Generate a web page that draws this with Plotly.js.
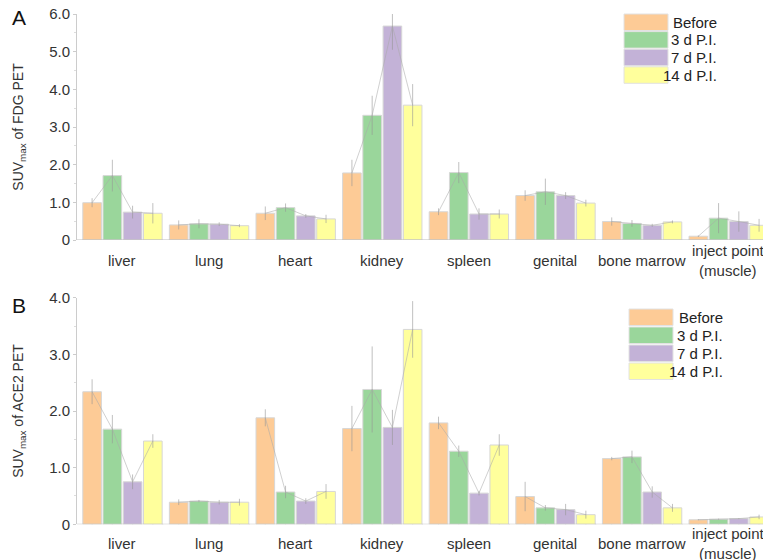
<!DOCTYPE html>
<html><head><meta charset="utf-8">
<script src="https://cdn.plot.ly/plotly-3.0.1.min.js"></script>
<style>html,body{margin:0;padding:0;background:#fff}#chart{width:763px;height:560px}</style>
</head><body><div id="chart"></div>
<script>
const categories = ['liver','lung','heart','kidney','spleen','genital','bone marrow','inject point<br>(muscle)'];
const seriesNames = ['Before','3 d P.I.','7 d P.I.','14 d P.I.'];
const seriesColors = ['#FDCB96','#9AD69B','#C3B2D7','#FFFF9C'];

// Panel A: SUVmax of FDG PET
const fdgBefore    = [0.99, 0.40, 0.71, 1.78, 0.75, 1.18, 0.49, 0.10];
const fdgBeforeErr = [0.12, 0.12, 0.18, 0.35, 0.09, 0.14, 0.11, 0.02];
const fdgD3        = [1.71, 0.43, 0.86, 3.31, 1.79, 1.28, 0.44, 0.58];
const fdgD3Err     = [0.42, 0.12, 0.11, 0.52, 0.28, 0.35, 0.09, 0.40];
const fdgD7        = [0.74, 0.42, 0.64, 5.68, 0.69, 1.18, 0.39, 0.49];
const fdgD7Err     = [0.17, 0.05, 0.05, 0.63, 0.15, 0.09, 0.04, 0.27];
const fdgD14       = [0.71, 0.38, 0.56, 3.58, 0.69, 0.98, 0.48, 0.39];
const fdgD14Err    = [0.27, 0.04, 0.11, 0.56, 0.12, 0.09, 0.04, 0.17];

// Panel B: SUVmax of ACE2 PET
const aceBefore    = [2.34, 0.39, 1.88, 1.69, 1.79, 0.49, 1.16, 0.08];
const aceBeforeErr = [0.22, 0.05, 0.15, 0.40, 0.11, 0.26, 0.03, 0.01];
const aceD3        = [1.68, 0.41, 0.57, 2.38, 1.29, 0.29, 1.19, 0.09];
const aceD3Err     = [0.25, 0.02, 0.11, 0.76, 0.10, 0.05, 0.11, 0.01];
const aceD7        = [0.75, 0.39, 0.41, 1.71, 0.55, 0.26, 0.57, 0.10];
const aceD7Err     = [0.13, 0.04, 0.05, 0.31, 0.04, 0.10, 0.10, 0.01];
const aceD14       = [1.47, 0.39, 0.58, 3.44, 1.40, 0.17, 0.29, 0.13];
const aceD14Err    = [0.12, 0.06, 0.13, 0.50, 0.19, 0.07, 0.07, 0.04];

const fdgTickVals = [0,1,2,3,4,5,6];
const fdgTickText = ['0','1.0','2.0','3.0','4.0','5.0','6.0'];
const aceTickVals = [0,1,2,3,4];
const aceTickText = ['0','1.0','2.0','3.0','4.0'];

const W = 763, H = 560, ML = 77;
const bargap = 0.065, slot = (1 - bargap) / 4;
const idx = categories.map((c, i) => i);
const FONT = 'Liberation Sans, Arial, sans-serif';
const px2x = p => (p - ML) / (W - ML);
const px2y = p => (H - p) / H;

const panels = [
  {xa:'x', ya:'y', vals:[fdgBefore,fdgD3,fdgD7,fdgD14], errs:[fdgBeforeErr,fdgD3Err,fdgD7Err,fdgD14Err]},
  {xa:'x2', ya:'y2', vals:[aceBefore,aceD3,aceD7,aceD14], errs:[aceBeforeErr,aceD3Err,aceD7Err,aceD14Err]}
];

const traces = [];
const shapes = [];
const annotations = [];
panels.forEach((p, pi) => {
  p.vals.forEach((v, j) => {
    traces.push({
      type:'bar', x: idx, y: v, name: seriesNames[j], xaxis: p.xa, yaxis: p.ya,
      showlegend: false, hoverinfo: 'skip',
      marker: {color: seriesColors[j], line: {color: 'rgba(215,215,215,1)', width: 1}},
      error_y: {type:'data', array: p.errs[j], visible: true, color: 'rgba(150,150,150,0.6)', thickness: 1, width: 0}
    });
  });
  // connecting lines across bar tops within each group
  const lx = [], ly = [];
  idx.forEach(k => {
    p.vals.forEach((v, j) => { lx.push(k + (j - 1.5) * slot); ly.push(v[k]); });
    lx.push(null); ly.push(null);
  });
  traces.push({type:'scatter', mode:'lines', x: lx, y: ly, xaxis: p.xa, yaxis: p.ya,
    showlegend:false, hoverinfo:'skip', connectgaps:false,
    line:{color:'rgba(170,170,170,0.55)', width:1}});
  // group baselines & ticks
  idx.forEach(k => {
    shapes.push({type:'line', xref:p.xa, yref:p.ya, x0:k - 0.535, x1:k + 0.5 - bargap/2, y0:0, y1:0,
      line:{color:'#bdbdbd', width:1}});
    const tx = [k - 0.535].concat(seriesNames.map((s, j) => k + (j - 1.5) * slot));
    tx.forEach(t => shapes.push({type:'line', xref:p.xa, yref:p.ya, ysizemode:'pixel', yanchor:0,
      x0:t, x1:t, y0:0, y1:-3, line:{color:'#bdbdbd', width:1}}));
    annotations.push({xref:p.xa, yref:p.ya + ' domain', x:k, y:0, yshift: pi === 0 ? -20 : -19,
      text: categories[k], showarrow:false, yanchor:'middle', xanchor:'center',
      font:{family:FONT, size:15, color:'#333'}});
  });
});

// manual legends (swatches + right-aligned labels)
const legends = [
  {top:14, sx0:624, sx1:668, tx:719, pitch:17.6, h:16.5},
  {top:309, sx0:629, sx1:673, tx:725, pitch:18, h:16.5}
];
legends.forEach(L => {
  seriesNames.forEach((s, j) => {
    const y0 = L.top + j * L.pitch;
    shapes.push({type:'rect', xref:'paper', yref:'paper', x0:px2x(L.sx0), x1:px2x(L.sx1),
      y0:px2y(y0 + L.h), y1:px2y(y0), fillcolor: seriesColors[j], line:{color:'#e2e2e2', width:1}});
    annotations.push({xref:'paper', yref:'paper', x:px2x(L.tx), y:px2y(y0 + L.h/2), xanchor:'right', yanchor:'middle',
      text:s, showarrow:false, font:{family:FONT, size:15, color:'#222'}});
  });
});

// panel letters
annotations.push({xref:'paper', yref:'paper', x:px2x(19), y:px2y(17), xanchor:'center', yanchor:'middle',
  text:'A', showarrow:false, font:{family:FONT, size:21, color:'#111'}});
annotations.push({xref:'paper', yref:'paper', x:px2x(19), y:px2y(305), xanchor:'center', yanchor:'middle',
  text:'B', showarrow:false, font:{family:FONT, size:21, color:'#111'}});

const xBase = {range:[-0.525, 7.396], showline:false, showticklabels:false, ticks:'', showgrid:false, zeroline:false, fixedrange:true};
const yBase = {showline:true, linecolor:'#cccccc', linewidth:1, ticks:'outside', ticklen:3, tickcolor:'#cccccc',
  showgrid:false, zeroline:false, tickfont:{family:FONT, size:15, color:'#333'},
  minor:{ticks:'outside', ticklen:2, tickcolor:'#dddddd', dtick:0.5}};

const layout = {
  width:W, height:H, margin:{l:ML, r:0, t:0, b:0}, paper_bgcolor:'#fff', plot_bgcolor:'#fff',
  barmode:'group', bargap:bargap, bargroupgap:0.08, showlegend:false,
  xaxis: Object.assign({}, xBase, {anchor:'y'}),
  xaxis2: Object.assign({}, xBase, {anchor:'y2'}),
  yaxis: Object.assign({}, yBase, {anchor:'x', domain:[px2y(240), px2y(14)], range:[0,6], tickvals:fdgTickVals, ticktext:fdgTickText,
    title:{text:'SUV<sub>max</sub> of FDG PET', standoff:22, font:{family:FONT, size:14, color:'#333'}}}),
  yaxis2: Object.assign({}, yBase, {anchor:'x2', domain:[px2y(524.3), px2y(297.7)], range:[0,4], tickvals:aceTickVals, ticktext:aceTickText,
    title:{text:'SUV<sub>max</sub> of ACE2 PET', standoff:22, font:{family:FONT, size:14, color:'#333'}}}),
  shapes: shapes, annotations: annotations, font:{family:FONT}
};
Plotly.newPlot('chart', traces, layout, {displayModeBar:false, staticPlot:true});
</script></body></html>
